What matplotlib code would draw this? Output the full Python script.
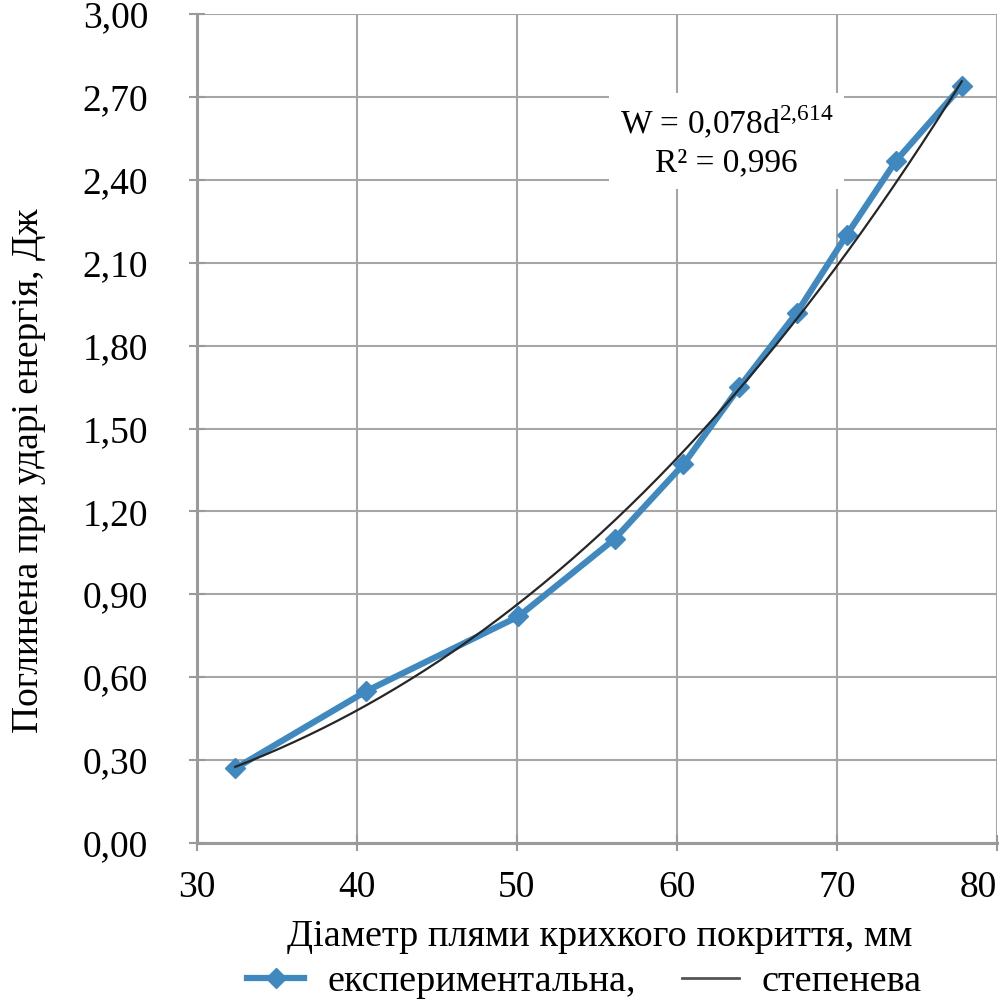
import numpy as np
import matplotlib
matplotlib.use('Agg')
import matplotlib.pyplot as plt
from matplotlib.lines import Line2D

plt.rcParams['font.family'] = ['Liberation Serif', 'DejaVu Serif']
plt.rcParams['mathtext.fontset'] = 'custom'
plt.rcParams['mathtext.rm'] = 'Liberation Serif'

# diameter of the brittle coating spot, mm
diameter = [32.4, 40.6, 50.1, 56.1, 60.4, 63.9, 67.5, 70.6, 73.7, 77.8]
# absorbed impact energy, J
energy = [0.27, 0.55, 0.82, 1.10, 1.37, 1.65, 1.92, 2.20, 2.47, 2.74]

x_ticks = [30, 40, 50, 60, 70, 80]
y_ticks = [0.0, 0.3, 0.6, 0.9, 1.2, 1.5, 1.8, 2.1, 2.4, 2.7, 3.0]
y_tick_labels = ['0,00', '0,30', '0,60', '0,90', '1,20', '1,50',
                 '1,80', '2,10', '2,40', '2,70', '3,00']

# power trendline, fitted like excel does (least squares in log-log)
b, log_a = np.polyfit(np.log(diameter), np.log(energy), 1)
d_fit = np.linspace(min(diameter), max(diameter), 200)
w_fit = np.exp(log_a) * d_fit ** b

figure = plt.figure(figsize=(9.99, 10.06), dpi=100)
axes = figure.add_axes([0.197, 0.162, 0.801, 0.824])

grid_color = '#a6a6a6'
blue = '#3f88c0'

axes.plot(diameter, energy, color=blue, linewidth=4.5, marker='D', ms=10,
          mfc=blue, mec=blue, solid_capstyle='round', zorder=3)
axes.plot(d_fit, w_fit, color='#262626', linewidth=1.6, zorder=4)

axes.set_xlim(30, 80)
axes.set_ylim(0, 3.0)
axes.set_xticks(x_ticks)
axes.set_yticks(y_ticks)
axes.set_yticklabels(y_tick_labels)
axes.grid(True, color=grid_color, linewidth=1.5)
axes.set_axisbelow(True)

for side in ['top', 'right']:
    axes.spines[side].set_visible(False)
for side in ['left', 'bottom']:
    axes.spines[side].set_color('#9a9a9a')
    axes.spines[side].set_linewidth(2.2)

axes.tick_params(axis='both', direction='inout', length=12, width=1.5,
                 color='#9a9a9a', labelsize=27)
axes.tick_params(axis='y', pad=29)
axes.tick_params(axis='x', pad=14)
# keep the last x label inside the picture
axes.get_xticklabels()[-1].set_horizontalalignment('right')

axes.text(63.1, 2.54, 'W = 0,078d$^{2{,}614}$\nR² = 0,996', fontsize=24,
          ha='center', va='center', linespacing=1.25, zorder=5,
          bbox=dict(facecolor='white', edgecolor='none', pad=8))

figure.text(0.029, 0.532, 'Поглинена при ударі енергія, Дж', rotation=90,
            fontsize=27, ha='center', va='center')
figure.text(0.6, 1 - 937 / 1006, 'Діаметр плями крихкого покриття, мм',
            fontsize=27.5, ha='center', va='center')

handles = [Line2D([], [], color=blue, linewidth=4.5, marker='D', ms=10),
           Line2D([], [], color='#555555', linewidth=2)]
figure.legend(handles, ['експериментальна,', 'степенева'], loc='center',
              bbox_to_anchor=(0.585, 1 - 982 / 1006), ncol=2, frameon=False,
              fontsize=27.5, handlelength=1.5, handletextpad=0.6,
              columnspacing=1.2, borderpad=0)

figure.savefig('out.png', dpi=100)
